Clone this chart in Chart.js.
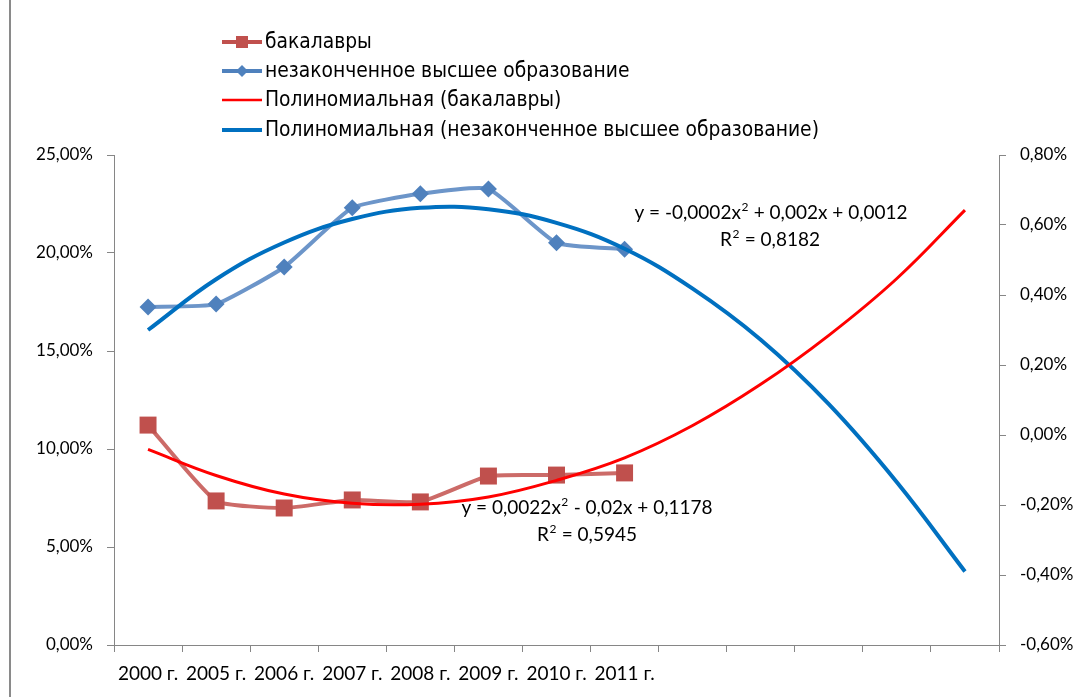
<!DOCTYPE html>
<html><head><meta charset="utf-8">
<script src="https://cdn.jsdelivr.net/npm/chart.js@4/dist/chart.umd.min.js"></script>
<style>html,body{margin:0;padding:0;background:#fff;} #wrap{position:relative;width:1089px;height:697px;}</style>
</head><body><div id="wrap"><canvas id="c" width="1089" height="697"></canvas></div>
<script>
// ---- data ----
const categories = ['2000 г.','2005 г.','2006 г.','2007 г.','2008 г.','2009 г.','2010 г.','2011 г.','','','','',''];
const bachelors = [11.22, 7.35, 6.99, 7.40, 7.30, 8.62, 8.67, 8.78];          // % (left axis)
const incomplete = [0.366, 0.374, 0.48, 0.649, 0.689, 0.703, 0.549, 0.531];   // % (right axis)
const trendBachelors = [9.98, 8.65, 7.70, 7.23, 7.18, 7.55, 8.40, 9.55, 11.2, 13.3, 15.8, 18.7, 22.19];
const trendIncomplete = [0.300, 0.445, 0.550, 0.617, 0.649, 0.645, 0.606, 0.532, 0.418, 0.272, 0.088, -0.135, -0.39];
const seriesNames = ['бакалавры','незаконченное высшее образование','Полиномиальная (бакалавры)','Полиномиальная (незаконченное высшее образование)'];
const eqIncomplete = ['y = -0,0002x² + 0,002x + 0,0012', 'R² = 0,8182'];
const eqBachelors = ['y = 0,0022x² - 0,02x + 0,1178', 'R² = 0,5945'];
const leftAxis = {min: 0, max: 25, step: 5};
const rightAxis = {min: -0.6, max: 0.8, step: 0.2};

const FONT = 'Lato, "Open Sans", sans-serif';
const fmt = v => (Math.abs(v) < 1e-9 ? 0 : v).toFixed(2).replace('.', ',') + '%';

function drawEq(ctx, text, cx, y, size) {
  const parts = text.split('²');
  const big = size + 'px ' + FONT, small = Math.round(size * 0.62) + 'px ' + FONT;
  let total = 0;
  parts.forEach((p, i) => {
    ctx.font = big; total += ctx.measureText(p).width;
    if (i < parts.length - 1) { ctx.font = small; total += ctx.measureText('2').width + 1; }
  });
  let x = cx - total / 2;
  ctx.textAlign = 'left'; ctx.textBaseline = 'middle';
  parts.forEach((p, i) => {
    ctx.font = big; ctx.fillText(p, x, y); x += ctx.measureText(p).width;
    if (i < parts.length - 1) {
      ctx.font = small; ctx.fillText('2', x + 0.5, y - size * 0.33); x += ctx.measureText('2').width + 1;
    }
  });
}

const legendPlugin = {
  id: 'customLegend',
  afterDraw(chart) {
    const ctx = chart.ctx;
    ctx.save();
    ctx.strokeStyle = '#8a8a8a'; ctx.lineWidth = 2;
    ctx.beginPath(); ctx.moveTo(10, 0); ctx.lineTo(10, 697); ctx.stroke();

    const rows = [42, 71, 100, 130];
    const fam = '"Liberation Sans Narrow", "DejaVu Sans Condensed", sans-serif';
    ctx.font = '20px ' + fam;
    const w = ctx.measureText(seriesNames[3]).width;
    const size = 20 * 554 / w;
    ctx.font = size.toFixed(1) + 'px ' + fam;
    ctx.textBaseline = 'middle'; ctx.textAlign = 'left';
    const styles = [
      {c: '#C0504D', lw: 4, m: 'rect'},
      {c: '#4F81BD', lw: 4, m: 'diamond'},
      {c: '#FF0000', lw: 2.5},
      {c: '#0070C0', lw: 4}
    ];
    rows.forEach((y, i) => {
      const s = styles[i];
      ctx.strokeStyle = s.c; ctx.lineWidth = s.lw;
      ctx.beginPath(); ctx.moveTo(222, y); ctx.lineTo(262, y); ctx.stroke();
      ctx.fillStyle = s.c;
      if (s.m === 'rect') ctx.fillRect(236, y - 6, 12, 12);
      if (s.m === 'diamond') { ctx.beginPath(); ctx.moveTo(242, y - 6); ctx.lineTo(248, y); ctx.lineTo(242, y + 6); ctx.lineTo(236, y); ctx.closePath(); ctx.fill(); }
      ctx.fillStyle = '#000';
      ctx.fillText(seriesNames[i], 265, y + 1);
    });

    ctx.fillStyle = '#000';
    drawEq(ctx, eqIncomplete[0], 771, 213, 19);
    drawEq(ctx, eqIncomplete[1], 770, 240, 19);
    drawEq(ctx, eqBachelors[0], 587, 508, 19);
    drawEq(ctx, eqBachelors[1], 587, 535, 19);
    ctx.restore();
  }
};

const axisGrid = {drawOnChartArea: false, tickLength: 7, color: '#868686', lineWidth: 1};
const tickFont = {family: FONT, size: 17};

new Chart(document.getElementById('c'), {
  type: 'line',
  data: {
    labels: categories,
    datasets: [
      {label: seriesNames[0], data: bachelors, yAxisID: 'y', borderColor: '#CC6B68', borderWidth: 4,
       pointStyle: 'rect', pointRadius: 12, pointBackgroundColor: '#C0504D', pointBorderColor: '#C0504D', pointBorderWidth: 0,
       tension: 0.15, order: 2},
      {label: seriesNames[1], data: incomplete, yAxisID: 'y1', borderColor: '#6C95C9', borderWidth: 4,
       pointStyle: 'rectRot', pointRadius: 8.5, pointBackgroundColor: '#4F81BD', pointBorderColor: '#4F81BD', pointBorderWidth: 0,
       tension: 0.15, order: 2},
      {label: seriesNames[2], data: trendBachelors, yAxisID: 'y', borderColor: '#FF0000', borderWidth: 3,
       pointRadius: 0, tension: 0.4, order: 1},
      {label: seriesNames[3], data: trendIncomplete, yAxisID: 'y1', borderColor: '#0070C0', borderWidth: 4,
       pointRadius: 0, tension: 0.4, order: 1}
    ]
  },
  options: {
    responsive: false, animation: false,
    layout: {padding: {top: 155, left: 0, right: 0, bottom: 0}},
    plugins: {legend: {display: false}, tooltip: {enabled: false}, title: {display: false}},
    scales: {
      x: {
        type: 'category', offset: true,
        grid: Object.assign({offset: true}, axisGrid),
        border: {color: '#868686'},
        ticks: {autoSkip: false, maxRotation: 0, minRotation: 0, padding: 10, font: {family: FONT, size: 19}, color: '#000'},
        afterFit: s => { s.height = 52; }
      },
      y: {
        position: 'left', min: leftAxis.min, max: leftAxis.max,
        grid: axisGrid, border: {color: '#868686'},
        ticks: {stepSize: leftAxis.step, callback: fmt, padding: 14, font: tickFont, color: '#000'},
        afterFit: s => { s.width = 114; }
      },
      y1: {
        position: 'right', min: rightAxis.min, max: rightAxis.max,
        grid: axisGrid, border: {color: '#868686'},
        ticks: {stepSize: rightAxis.step, callback: fmt, padding: 14, font: tickFont, color: '#000'},
        afterFit: s => { s.width = 90; }
      }
    }
  },
  plugins: [legendPlugin]
});
</script>
</body></html>
